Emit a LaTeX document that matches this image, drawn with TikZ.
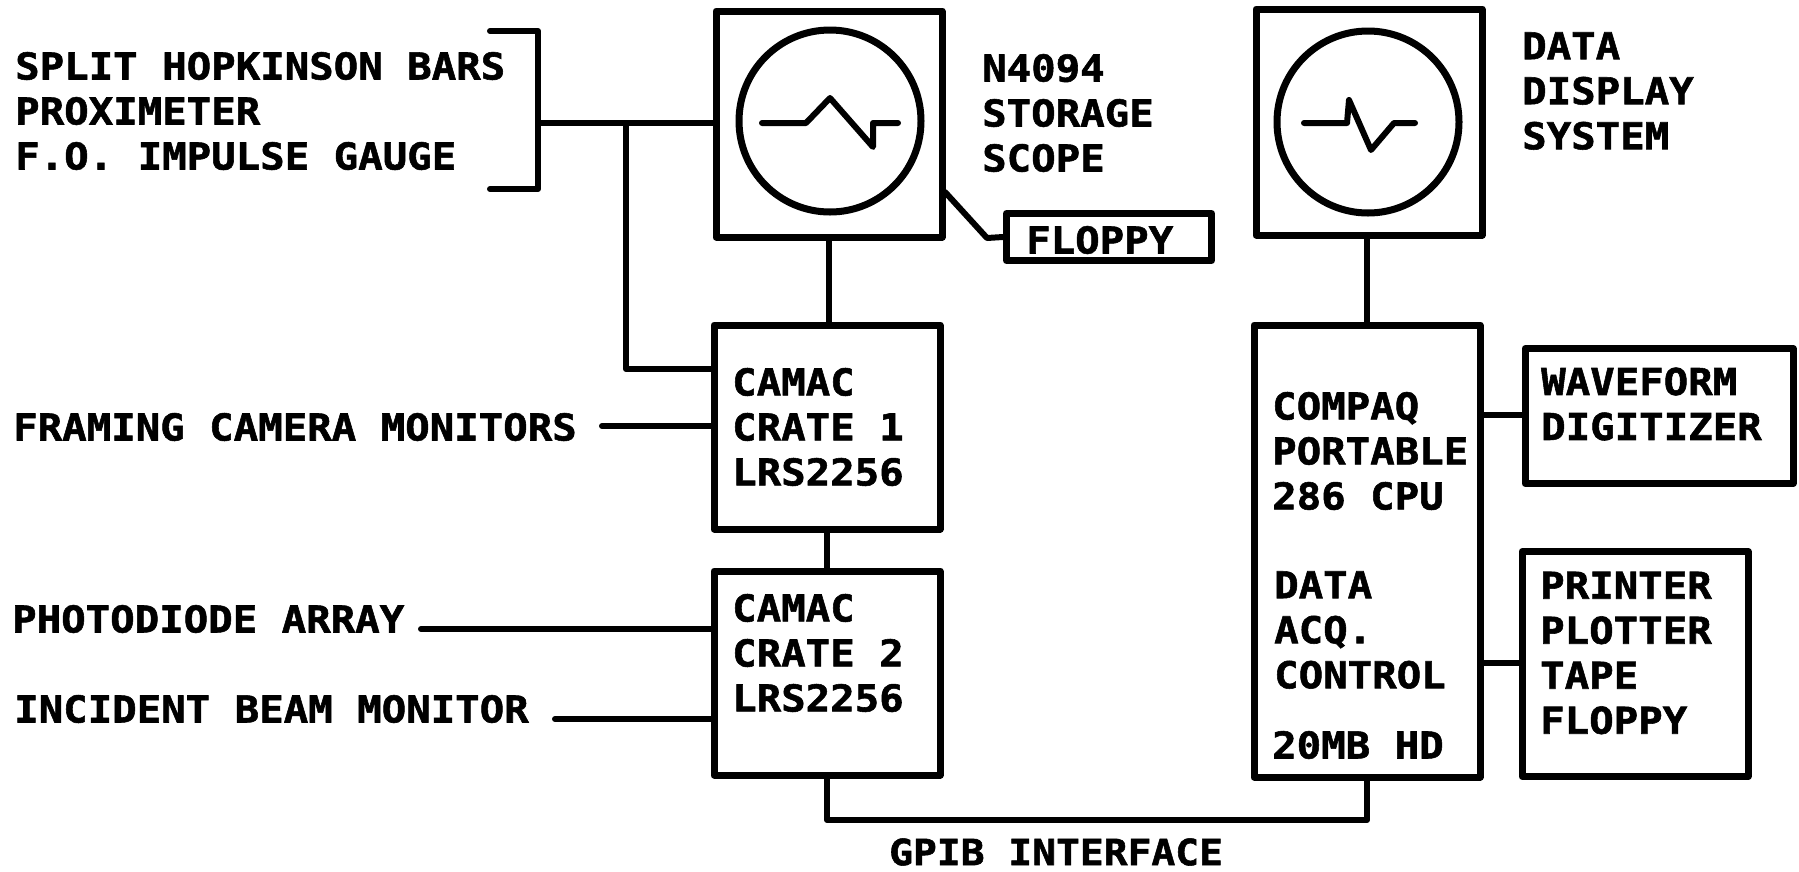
\documentclass[tikz,border=0pt]{standalone}
\usepackage{fontspec}
\newfontfamily\labfont{DejaVu Sans Mono Bold}[FakeStretch=1.1,FakeBold=1.5]
\tikzset{
  ln/.style={line width=6pt,black,line cap=round,line join=round},
  box/.style={draw=black,line width=7pt,fill=none,inner sep=0pt,line join=round},
  crt/.style={circle,draw=black,line width=7pt,minimum size=182pt,inner sep=0pt},
  lab/.style={font=\labfont\fontsize{37}{45}\selectfont,anchor=west,align=left,inner sep=0pt,black},
  labone/.style={font=\labfont\fontsize{36}{40}\selectfont,anchor=west,inner sep=0pt,black},
}
\begin{document}
\begin{tikzpicture}[x=1pt,y=-1pt]
\useasboundingbox (0,0) rectangle (1799,871);
% boxes
\node[box,minimum width=226pt,minimum height=226pt] (scope) at (829,124) {};
\node[box,minimum width=226pt,minimum height=226pt] (disp) at (1369,122) {};
\node[crt] (c1) at (830,121) {};
\node[crt] (c2) at (1368,122) {};
\node[box,minimum width=226pt,minimum height=204pt] (cr1) at (827,427) {};
\node[box,minimum width=226pt,minimum height=204pt] (cr2) at (827,673) {};
\node[box,minimum width=226pt,minimum height=452pt] (cpu) at (1367,551) {};
\node[box,minimum width=205pt,minimum height=47pt] (flop) at (1109,237) {};
\node[box,minimum width=268pt,minimum height=135pt] (wave) at (1659,416) {};
\node[box,minimum width=226pt,minimum height=225pt] (prn) at (1635,664) {};
% traces
\draw[ln] (762,123)--(806,123)--(830,98)--(873,147)--(873,123)--(898,123);
\draw[ln] (1304,123)--(1347,123)--(1349,100)--(1371,150)--(1394,123)--(1415,123);
% labels
\node[lab] (t1) at (15,111) {SPLIT HOPKINSON BARS\\PROXIMETER\\F.O. IMPULSE GAUGE};
\node[lab] (t2) at (982,113) {N4094\\STORAGE\\SCOPE};
\node[lab] (t3) at (1522,91) {DATA\\DISPLAY\\SYSTEM};
\node[lab] (t4) at (1026,240) {FLOPPY};
\node[lab] (t5) at (732,427) {CAMAC\\CRATE 1\\LRS2256};
\node[lab] (t6) at (732,653) {CAMAC\\CRATE 2\\LRS2256};
\node[lab] (t7) at (13,427) {FRAMING CAMERA MONITORS};
\node[lab] (t8) at (12,619) {PHOTODIODE ARRAY};
\node[lab] (t9) at (14,709) {INCIDENT BEAM MONITOR};
\node[lab] (t10) at (1272,451) {COMPAQ\\PORTABLE\\286 CPU};
\node[lab] (t11) at (1274,630) {DATA\\ACQ.\\CONTROL};
\node[lab] (t12) at (1272,745) {20MB HD};
\node[lab] (t13) at (1541,404) {WAVEFORM\\DIGITIZER};
\node[lab] (t14) at (1540,653) {PRINTER\\PLOTTER\\TAPE\\FLOPPY};
\node[labone] (t15) at (889,852) {GPIB INTERFACE};
% bracket
\coordinate (bm) at (538,123);
\coordinate (j) at (626,123);
\draw[ln] (490,31)--(538,31)--(538,189)--(490,189);
\draw[ln] (bm)--(scope.west |- bm);
\draw[ln] (j)--(626,369)--(cr1.west |- 0,369);
% connectors
\draw[ln] (scope.south)--(scope.south |- cr1.north);
\draw[ln] (cr1.south)--(cr2.north);
\draw[ln] (cpu.north |- disp.south)--(cpu.north);
\coordinate (f1) at (945,192);
\coordinate (f2) at (987,238);
\draw[ln] (f1)--(f2)--(flop.west);
\coordinate (a7) at (602,426);
\draw[ln] (a7)--(cr1.west |- a7);
\coordinate (a8) at (421,629);
\draw[ln] (a8)--(cr2.west |- a8);
\coordinate (a9) at (555,719);
\draw[ln] (a9)--(cr2.west |- a9);
\draw[ln] (cpu.east |- 0,415)--(wave.west |- 0,415);
\draw[ln] (cpu.east |- 0,663)--(prn.west |- 0,663);
\draw[ln] (cr2.south)--(827,820)--(1367,820)--(cpu.south);
\end{tikzpicture}
\end{document}
